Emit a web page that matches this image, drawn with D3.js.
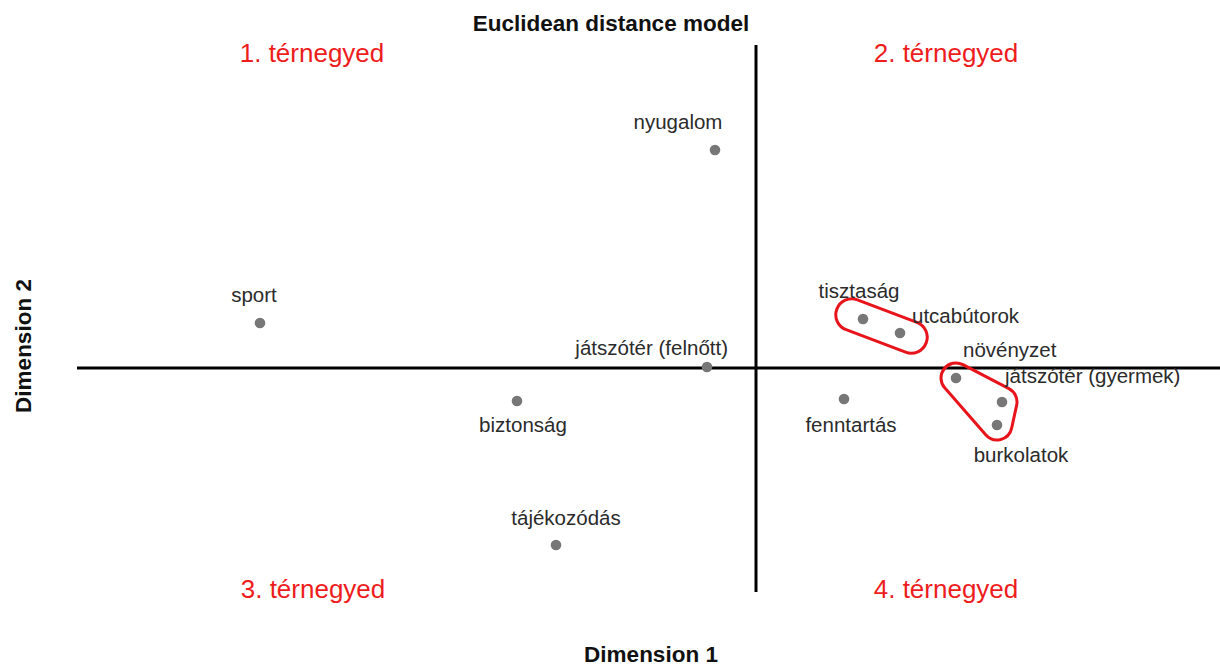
<!DOCTYPE html>
<html>
<head>
<meta charset="utf-8">
<script src="https://cdn.jsdelivr.net/npm/d3@7"></script>
<style>
  html, body { margin: 0; padding: 0; background: #ffffff; }
  svg { display: block; }
</style>
</head>
<body>
<svg id="chart" width="1220" height="666"></svg>
<script>
// ---- data ----
const names = ["nyugalom", "sport", "játszótér (felnőtt)", "biztonság", "tájékozódás",
  "tisztaság", "utcabútorok", "növényzet", "játszótér (gyermek)", "burkolatok", "fenntartás"];
const dim1 = [-0.205, -2.48, -0.245, -1.195, -1.0, 0.535, 0.72, 1.0, 1.23, 1.205, 0.44];
const dim2 = [1.09, 0.225, 0.005, -0.165, -0.885, 0.245, 0.175, -0.05, -0.17, -0.285, -0.155];
const quadrantLabels = ["1. térnegyed", "2. térnegyed", "3. térnegyed", "4. térnegyed"];
const groups = [["tisztaság", "utcabútorok"], ["növényzet", "játszótér (gyermek)", "burkolatok"]];
const titleText = "Euclidean distance model";
const xTitle = "Dimension 1";
const yTitle = "Dimension 2";

// ---- layout / styles (kept apart from the data) ----
const xDomain = [-3.395, 2.32];
const yDomain = [-1.12, 1.615];
const labelPlacement = {
  "nyugalom": ["middle", -37, -21],
  "sport": ["middle", -6, -21],
  "játszótér (felnőtt)": ["end", 21, -12],
  "biztonság": ["middle", 6, 31],
  "tájékozódás": ["middle", 10, -20],
  "tisztaság": ["middle", -4, -21],
  "utcabútorok": ["start", 12, -10],
  "növényzet": ["start", 7, -21],
  "játszótér (gyermek)": ["start", 3, -19],
  "burkolatok": ["middle", 24, 37],
  "fenntartás": ["middle", 7, 33]
};
const groupStyle = [{extend: 12, pad: 16}, {extend: 0, pad: 15}];

const svg = d3.select("#chart");
const x = d3.scaleLinear().domain(xDomain).range([77, 1220]);
const y = d3.scaleLinear().domain(yDomain).range([592, 45]);

const font = "'Liberation Sans', Arial, Helvetica, sans-serif";

// axes through the origin
svg.append("line")
  .attr("x1", x(xDomain[0])).attr("x2", x(xDomain[1]))
  .attr("y1", y(0)).attr("y2", y(0))
  .attr("stroke", "#000").attr("stroke-width", 3);
svg.append("line")
  .attr("x1", x(0)).attr("x2", x(0))
  .attr("y1", y(yDomain[1])).attr("y2", y(yDomain[0]))
  .attr("stroke", "#000").attr("stroke-width", 3);

// title & axis titles
svg.append("text").text(titleText)
  .attr("x", 611).attr("y", 31).attr("text-anchor", "middle")
  .attr("font-family", font).attr("font-weight", "bold").attr("font-size", 22.5).attr("fill", "#111");
svg.append("text").text(xTitle)
  .attr("x", 651).attr("y", 662).attr("text-anchor", "middle")
  .attr("font-family", font).attr("font-weight", "bold").attr("font-size", 22.5).attr("fill", "#111");
svg.append("text").text(yTitle)
  .attr("transform", "translate(31,346) rotate(-90)").attr("text-anchor", "middle")
  .attr("font-family", font).attr("font-weight", "bold").attr("font-size", 22.5).attr("fill", "#111");

// quadrant labels
const qPos = [[312, 62], [946, 62], [313, 598], [946, 598]];
svg.selectAll("text.quad").data(quadrantLabels).join("text")
  .attr("class", "quad").text(d => d)
  .attr("x", (d, i) => qPos[i][0]).attr("y", (d, i) => qPos[i][1])
  .attr("text-anchor", "middle")
  .attr("font-family", font).attr("font-size", 26).attr("fill", "#ee1c1c");

// points
const pts = names.map((n, i) => ({name: n, px: x(dim1[i]), py: y(dim2[i])}));
const byName = Object.fromEntries(pts.map(p => [p.name, p]));

// group outlines (rounded hulls)
function roundedHull(points, pad) {
  let hull = points.length >= 3 ? d3.polygonHull(points) : points.slice();
  const n = hull.length;
  if (n === 2) {
    const [a, b] = hull;
    const ang = Math.atan2(b[1] - a[1], b[0] - a[0]);
    const nx = Math.cos(ang + Math.PI / 2) * pad, ny = Math.sin(ang + Math.PI / 2) * pad;
    return `M${a[0] + nx},${a[1] + ny} L${b[0] + nx},${b[1] + ny} ` +
      `A${pad},${pad} 0 0 0 ${b[0] - nx},${b[1] - ny} L${a[0] - nx},${a[1] - ny} ` +
      `A${pad},${pad} 0 0 0 ${a[0] + nx},${a[1] + ny} Z`;
  }
  let area = 0;
  for (let i = 0; i < n; i++) {
    const p = hull[i], q = hull[(i + 1) % n];
    area += p[0] * q[1] - q[0] * p[1];
  }
  const s = area > 0 ? 1 : -1;
  const segs = [];
  for (let i = 0; i < n; i++) {
    const p = hull[i], q = hull[(i + 1) % n];
    const dx = q[0] - p[0], dy = q[1] - p[1], L = Math.hypot(dx, dy);
    const ox = s * dy / L * pad, oy = -s * dx / L * pad;
    segs.push([[p[0] + ox, p[1] + oy], [q[0] + ox, q[1] + oy]]);
  }
  let d = `M${segs[0][0][0]},${segs[0][0][1]}`;
  const sweep = area > 0 ? 1 : 0;
  for (let i = 0; i < n; i++) {
    const seg = segs[i], next = segs[(i + 1) % n];
    d += ` L${seg[1][0]},${seg[1][1]}`;
    d += ` A${pad},${pad} 0 0 ${sweep} ${next[0][0]},${next[0][1]}`;
  }
  return d + " Z";
}

groups.forEach((g, gi) => {
  const members = g.map(n => byName[n]);
  const cx = d3.mean(members, m => m.px), cy = d3.mean(members, m => m.py);
  const ext = groupStyle[gi].extend;
  const ptsArr = members.map(m => {
    const dx = m.px - cx, dy = m.py - cy, L = Math.hypot(dx, dy) || 1;
    return [m.px + dx / L * ext, m.py + dy / L * ext];
  });
  svg.append("path").attr("d", roundedHull(ptsArr, groupStyle[gi].pad))
    .attr("fill", "none").attr("stroke", "#e8141b").attr("stroke-width", 3);
});

svg.selectAll("circle.pt").data(pts).join("circle")
  .attr("class", "pt")
  .attr("cx", d => d.px).attr("cy", d => d.py).attr("r", 5.3)
  .attr("fill", "#777");

svg.selectAll("text.lbl").data(pts).join("text")
  .attr("class", "lbl").text(d => d.name)
  .attr("x", d => d.px + labelPlacement[d.name][1])
  .attr("y", d => d.py + labelPlacement[d.name][2])
  .attr("text-anchor", d => labelPlacement[d.name][0])
  .attr("font-family", font).attr("font-size", 20.5).attr("fill", "#2b2b2b");
</script>
</body>
</html>
